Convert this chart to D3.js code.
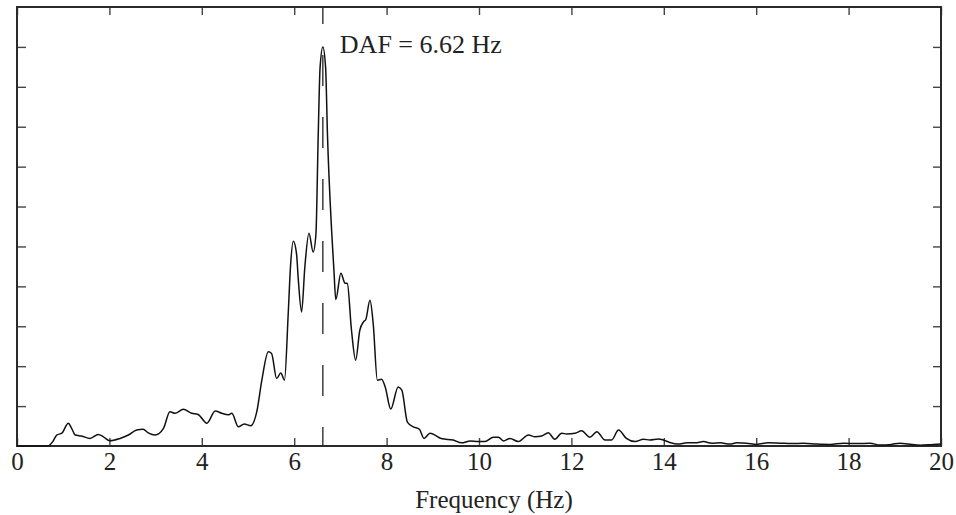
<!DOCTYPE html>
<html>
<head>
<meta charset="utf-8">
<script src="https://cdn.jsdelivr.net/npm/d3@7"></script>
<style>
	body { margin: 0; background: #fff; }
	text { font-family: "Liberation Serif", "DejaVu Serif", serif; fill: #222; }
</style>
</head>
<body>
<div id="chart"></div>
<script>
// spectrum (normalised amplitude)
var freq = [0, 0.5, 0.67, 0.78, 0.86, 0.97, 1.11, 1.18, 1.26, 1.40, 1.58, 1.76, 1.87, 2.01, 2.23, 2.41, 2.59, 2.73, 2.84, 2.99,
	3.17, 3.31, 3.42, 3.60, 3.78, 3.92, 4.11, 4.29, 4.43, 4.57, 4.65, 4.79, 4.92, 5.06, 5.19, 5.30, 5.44, 5.51, 5.62, 5.71,
	5.79, 5.87, 5.92, 5.98, 6.05, 6.09, 6.16, 6.23, 6.32, 6.41, 6.47, 6.52, 6.56, 6.62, 6.68, 6.72, 6.81, 6.86, 6.90, 7.01,
	7.10, 7.15, 7.24, 7.33, 7.42, 7.50, 7.55, 7.64, 7.71, 7.80, 7.89, 7.97, 8.09, 8.25, 8.33, 8.45, 8.58, 8.71, 8.81, 8.94,
	9.20, 9.44, 9.62, 9.81, 9.98, 10.13, 10.31, 10.42, 10.53, 10.67, 10.85, 11.07, 11.21, 11.36, 11.50, 11.64, 11.79, 11.90,
	12.08, 12.22, 12.40, 12.55, 12.73, 12.87, 13.02, 13.19, 13.38, 13.56, 13.70, 13.88, 13.99, 14.13, 14.31, 14.50, 14.68,
	14.86, 15.04, 15.22, 15.43, 15.58, 15.79, 16.01, 16.26, 16.52, 16.77, 17.02, 17.31, 17.60, 17.89, 18.17, 18.46, 18.68,
	18.93, 19.11, 19.29, 19.55, 19.83, 20.0];
var amp = [0, 0, 0, 0.012, 0.0275, 0.032, 0.057, 0.045, 0.0275, 0.025, 0.019, 0.029, 0.023, 0.013, 0.019, 0.0275, 0.04, 0.042, 0.033, 0.0275,
	0.044, 0.086, 0.082, 0.092, 0.082, 0.079, 0.057, 0.0875, 0.082, 0.078, 0.082, 0.048, 0.055, 0.051, 0.086, 0.165, 0.236, 0.232, 0.169, 0.183,
	0.165, 0.33, 0.45, 0.513, 0.482, 0.415, 0.336, 0.448, 0.533, 0.486, 0.53, 0.78, 0.948, 1.0, 0.948, 0.78, 0.54, 0.44, 0.367, 0.433,
	0.408, 0.407, 0.29, 0.215, 0.29, 0.311, 0.317, 0.365, 0.307, 0.165, 0.167, 0.148, 0.0925, 0.148, 0.14, 0.06, 0.048, 0.042, 0.019, 0.032,
	0.018, 0.015, 0.008, 0.0125, 0.011, 0.011, 0.022, 0.022, 0.0125, 0.019, 0.011, 0.0275, 0.023, 0.025, 0.033, 0.017, 0.032, 0.03,
	0.032, 0.038, 0.022, 0.036, 0.015, 0.015, 0.04, 0.019, 0.011, 0.017, 0.015, 0.0175, 0.015, 0.009, 0.005, 0.008, 0.008,
	0.011, 0.007, 0.008, 0.005, 0.008, 0.007, 0.004, 0.008, 0.007, 0.006, 0.007, 0.005, 0.004, 0.007, 0.006, 0.007, 0.0025,
	0.004, 0.007, 0.005, 0.002, 0.004, 0.005];
var xTicks = [0, 2, 4, 6, 8, 10, 12, 14, 16, 18, 20];
var yTicks = [0.1, 0.2, 0.3, 0.4, 0.5, 0.6, 0.7, 0.8, 0.9, 1.0];
var daf = 6.62;

var margin = { left: 17, top: 7, right: 15, bottom: 69 };
var width = 956, height = 515;
var w = width - margin.left - margin.right;
var h = height - margin.top - margin.bottom;

var svg = d3.select('#chart')
	.append('svg')
	.attr('width', width)
	.attr('height', height);

var g = svg.append('g')
	.attr('transform', 'translate(' + margin.left + ',' + margin.top + ')');

var x = d3.scaleLinear().domain([0, 20]).range([0, w]);
var y = d3.scaleLinear().domain([0, 1.1]).range([h, 0]);

// ticks on all four sides, pointing inwards
var bottom = g.append('g')
	.attr('transform', 'translate(0,' + h + ')')
	.call(d3.axisBottom(x).tickValues(xTicks).tickSize(-8).tickSizeOuter(0).tickPadding(6));
bottom.selectAll('text').style('font-size', '25px');

g.append('g')
	.call(d3.axisTop(x).tickValues(xTicks).tickSize(-8).tickSizeOuter(0).tickFormat(''));
g.append('g')
	.call(d3.axisLeft(y).tickValues(yTicks).tickSize(-9).tickSizeOuter(0).tickFormat(''));
g.append('g')
	.attr('transform', 'translate(' + w + ',0)')
	.call(d3.axisRight(y).tickValues(yTicks).tickSize(-8).tickSizeOuter(0).tickFormat(''));

g.selectAll('.domain').remove();
g.selectAll('.tick line').attr('stroke', '#444').attr('stroke-width', 1.4);
g.selectAll('.tick text').attr('fill', '#222').style('font-family', '"Liberation Serif", serif');

// frame
g.append('rect')
	.attr('x', 0)
	.attr('y', 0)
	.attr('width', w)
	.attr('height', h)
	.attr('fill', 'none')
	.attr('stroke', '#2a2a2a')
	.attr('stroke-width', 2);

// dashed marker at the dominant frequency
g.append('line')
	.attr('x1', x(daf))
	.attr('x2', x(daf))
	.attr('y1', 0)
	.attr('y2', h)
	.attr('stroke', '#222')
	.attr('stroke-width', 1.3)
	.attr('stroke-dasharray', '31,31')
	.attr('stroke-dashoffset', 14);

var line = d3.line()
	.x(function (d) { return x(d[0]); })
	.y(function (d) { return y(d[1]); })
	.curve(d3.curveMonotoneX);

g.append('path')
	.datum(d3.zip(freq, amp))
	.attr('d', line)
	.attr('fill', 'none')
	.attr('stroke', '#111')
	.attr('stroke-width', 1.5);

g.append('text')
	.attr('x', x(daf) + 17)
	.attr('y', 46)
	.style('font-size', '26px')
	.text('DAF = ' + daf + ' Hz');

svg.append('text')
	.attr('x', margin.left + w / 2 + 15)
	.attr('y', 508)
	.attr('text-anchor', 'middle')
	.style('font-size', '25px')
	.text('Frequency (Hz)');
</script>
</body>
</html>
